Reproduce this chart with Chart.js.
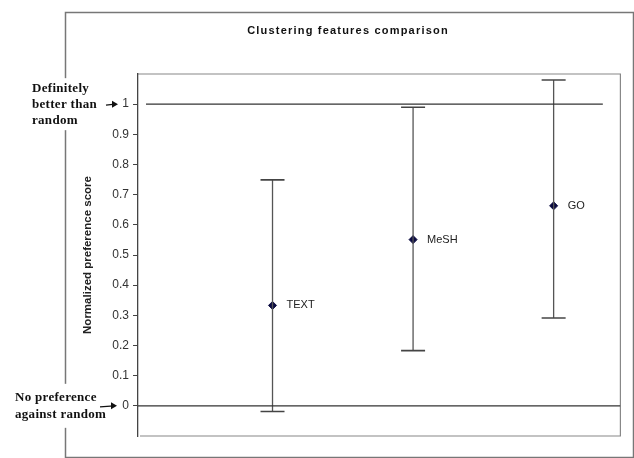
<!doctype html>
<html>
<head>
    <title>Clustering features comparison</title>
    <script src="https://cdn.jsdelivr.net/npm/chart.js@4/dist/chart.umd.min.js"></script>
    <style>
        html, body{
            margin: 0px;
            background: #fff;
        }
        #container{
            width: 634px;
            height: 458px;
        }
    </style>
</head>
<body>
    <div id="container">
        <canvas id="canvas"></canvas>
    </div>
    <script>
        // values
        var categories = ['TEXT', 'MeSH', 'GO'];
        var xPos = [1, 2, 3];
        var means = [0.333, 0.551, 0.663];
        var upper = [0.749, 0.99, 1.08];
        var lower = [-0.019, 0.183, 0.291];
        var refLines = [1, 0];
        var yMin = -0.1, yMax = 1.1, yStep = 0.1;
        var xMin = 0.043, xMax = 3.475;

        var datasets = [];

        // reference lines at 1 and 0
        datasets.push({
            type: 'line',
            data: [{x: 0.1, y: refLines[0]}, {x: 3.35, y: refLines[0]}],
            borderColor: '#333',
            borderWidth: 1.3,
            pointRadius: 0
        });
        datasets.push({
            type: 'line',
            data: [{x: xMin, y: refLines[1]}, {x: xMax, y: refLines[1]}],
            borderColor: '#333',
            borderWidth: 1.3,
            pointRadius: 0
        });

        // whiskers
        for(var i = 0; i < categories.length; ++i){
            datasets.push({
                type: 'line',
                data: [{x: xPos[i], y: lower[i]}, {x: xPos[i], y: upper[i]}],
                borderColor: '#555',
                borderWidth: 1.3,
                pointStyle: 'line',
                pointRadius: 12,
                pointBorderWidth: 1.6,
                pointBorderColor: '#444'
            });
        }

        // means
        var meanData = [];
        for(var i = 0; i < categories.length; ++i){
            meanData.push({x: xPos[i], y: means[i]});
        }
        datasets.push({
            type: 'scatter',
            data: meanData,
            pointStyle: 'rectRot',
            pointRadius: 4,
            backgroundColor: '#0a0a40',
            borderColor: '#0a0a40'
        });

        var decor = {
            id: 'decor',
            beforeDraw: function(chart){
                var ctx = chart.ctx;
                var a = chart.chartArea;
                ctx.save();
                // outer frame
                ctx.strokeStyle = '#777';
                ctx.lineWidth = 1.5;
                ctx.strokeRect(65.5, 12.5, 568, 445);
                // plot frame
                ctx.strokeStyle = '#888';
                ctx.lineWidth = 1.2;
                ctx.beginPath();
                ctx.moveTo(a.left, a.top);
                ctx.lineTo(a.right, a.top);
                ctx.lineTo(a.right, a.bottom);
                ctx.lineTo(a.left + 2, a.bottom);
                ctx.stroke();
                // title
                ctx.fillStyle = '#111';
                ctx.font = 'bold 11px "Liberation Sans", Arial, sans-serif';
                ctx.letterSpacing = '1.2px';
                ctx.textAlign = 'center';
                ctx.textBaseline = 'middle';
                ctx.fillText('Clustering features comparison', 348, 31);
                ctx.restore();
            },
            afterDraw: function(chart){
                var ctx = chart.ctx;
                var y = chart.scales.y;
                ctx.save();
                // point labels
                var meta = chart.getDatasetMeta(chart.data.datasets.length - 1);
                ctx.font = '11px "Liberation Sans", Arial, sans-serif';
                ctx.fillStyle = '#222';
                ctx.textAlign = 'left';
                ctx.textBaseline = 'middle';
                meta.data.forEach(function(pt, i){
                    ctx.fillText(categories[i], pt.x + 14, pt.y);
                });
                // side annotations
                var y1 = y.getPixelForValue(refLines[0]);
                var y0 = y.getPixelForValue(refLines[1]);
                ctx.fillStyle = '#fff';
                ctx.fillRect(28, y1 - 26, 74, 52);
                ctx.fillRect(12, y0 - 22, 92, 44);
                ctx.fillStyle = '#111';
                ctx.font = 'bold 13px "Liberation Serif", "Times New Roman", serif';
                ctx.letterSpacing = '0.3px';
                ctx.textBaseline = 'middle';
                ctx.fillText('Definitely', 32, y1 - 16);
                ctx.fillText('better than', 32, y1);
                ctx.fillText('random', 32, y1 + 16);
                ctx.fillText('No preference', 15, y0 - 8);
                ctx.fillText('against random', 15, y0 + 9);
                // arrows
                ctx.strokeStyle = '#111';
                ctx.lineWidth = 1.2;
                function arrow(x0, x1, yy){
                    ctx.beginPath();
                    ctx.moveTo(x0, yy + 1);
                    ctx.lineTo(x1 - 3, yy);
                    ctx.stroke();
                    ctx.beginPath();
                    ctx.moveTo(x1, yy);
                    ctx.lineTo(x1 - 6, yy - 3.5);
                    ctx.lineTo(x1 - 6, yy + 3.5);
                    ctx.closePath();
                    ctx.fill();
                }
                arrow(106, 118, y1);
                arrow(100, 117, y0);
                ctx.restore();
            }
        };

        window.onload = function(){
            var ctx = document.getElementById('canvas').getContext('2d');
            window.myChart = new Chart(ctx, {
                type: 'scatter',
                data: {datasets: datasets},
                plugins: [decor],
                options: {
                    responsive: true,
                    maintainAspectRatio: false,
                    animation: false,
                    layout: {
                        padding: {left: 78, top: 74, right: 12, bottom: 22}
                    },
                    plugins: {
                        legend: {display: false},
                        tooltip: {enabled: false}
                    },
                    scales: {
                        x: {
                            type: 'linear',
                            min: xMin,
                            max: xMax,
                            display: false
                        },
                        y: {
                            min: yMin,
                            max: yMax,
                            afterFit: function(scale){ scale.width = 60; },
                            border: {display: true, color: '#444', width: 1.3},
                            grid: {
                                drawOnChartArea: false,
                                drawTicks: true,
                                tickLength: 5,
                                color: '#444'
                            },
                            ticks: {
                                stepSize: yStep,
                                padding: 4,
                                color: '#333',
                                font: {family: '"Liberation Sans", Arial, sans-serif', size: 12},
                                callback: function(v){
                                    var r = Math.round(v * 10) / 10;
                                    if(r < 0 || r > 1) return null;
                                    return String(r);
                                }
                            },
                            title: {
                                display: true,
                                text: 'Normalized preference score',
                                color: '#222',
                                padding: {top: 3, bottom: 0},
                                font: {family: '"Liberation Sans", Arial, sans-serif', size: 11.5, weight: 'bold'}
                            }
                        }
                    }
                }
            });
        };
    </script>
</body>
</html>
